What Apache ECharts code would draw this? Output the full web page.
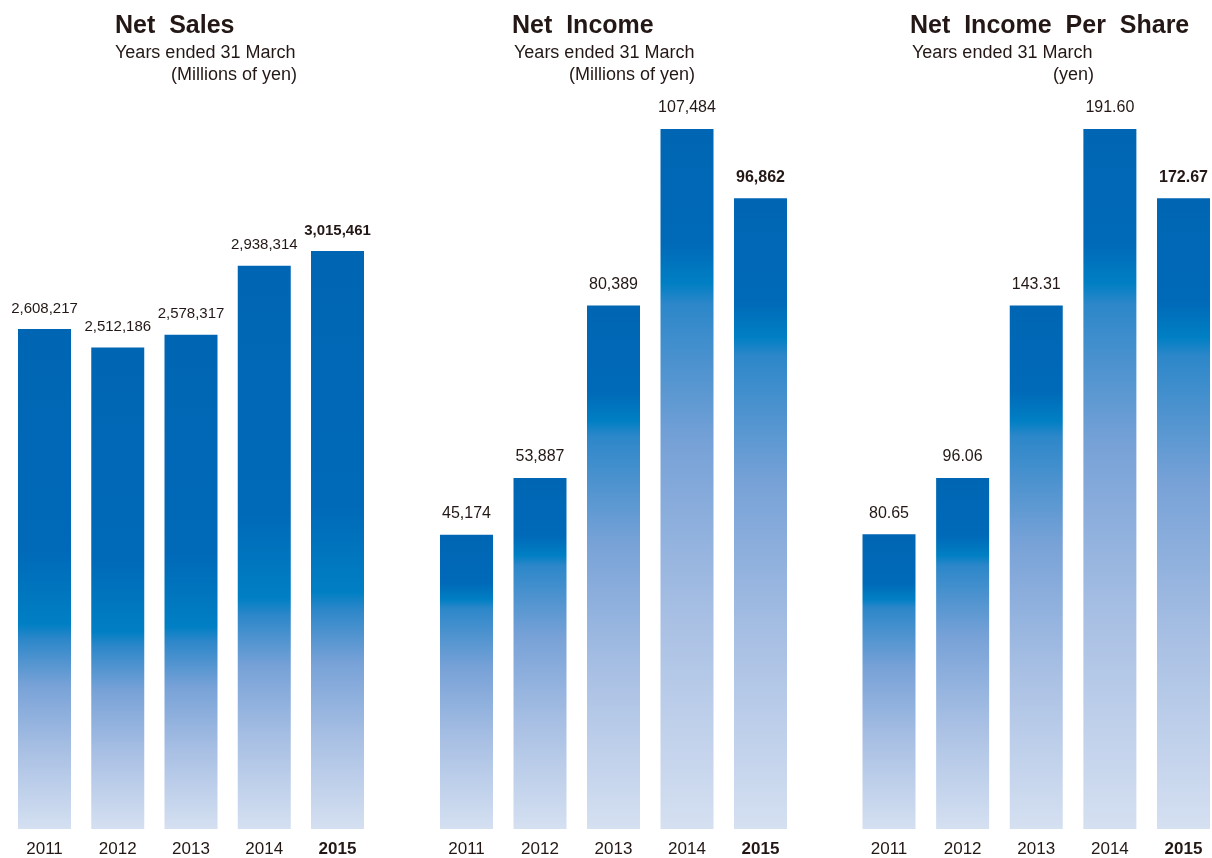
<!DOCTYPE html>
<html>
<head>
<meta charset="utf-8">
<script src="https://cdn.jsdelivr.net/npm/echarts@6/dist/echarts.min.js"></script>
<style>
html,body{margin:0;padding:0;background:#fff;}
#c{width:1212px;height:858px;}
</style>
</head>
<body>
<div id="c"></div>
<script>
const years = ['2011', '2012', '2013', '2014', '2015'];
const netSales = [2608217, 2512186, 2578317, 2938314, 3015461];
const netIncome = [45174, 53887, 80389, 107484, 96862];
const netIncomePerShare = [80.65, 96.06, 143.31, 191.60, 172.67];

const titles = ['Net  Sales', 'Net  Income', 'Net  Income  Per  Share'];
const subtitles = ['Years ended 31 March', 'Years ended 31 March', 'Years ended 31 March'];
const units = ['(Millions of yen)', '(Millions of yen)', '(yen)'];

const FONT = '"Liberation Sans", Arial, Helvetica, sans-serif';
const INK = '#231815';

function grad(s) {
  const r = 1 - s;
  return new echarts.graphic.LinearGradient(0, 0, 0, 1, [
    { offset: 0, color: '#0066b4' },
    { offset: s * 0.75, color: '#006ab8' },
    { offset: s, color: '#007fc4' },
    { offset: s + 0.03, color: '#2c87c9' },
    { offset: s + r * 0.3, color: '#78a2d7' },
    { offset: s + r * 0.62, color: '#a9c0e4' },
    { offset: 1, color: '#d5e0f1' }
  ]);
}

const grids = [
  { left: 44.5, width: 293, top: 251, bottom: 26 },
  { left: 466.5, width: 294, top: 129, bottom: 26 },
  { left: 889, width: 294.5, top: 129, bottom: 26 }
];
const seriesData = [netSales, netIncome, netIncomePerShare];
const fmts = [
  v => v.toLocaleString('en-US'),
  v => v.toLocaleString('en-US'),
  v => v.toFixed(2)
];
const splits = [0.59, 0.22, 0.22];
const labelSizes = [15, 16, 16];

const option = {
  animation: false,
  backgroundColor: '#fff',
  grid: grids,
  xAxis: grids.map((g, i) => ({
    type: 'category',
    gridIndex: i,
    data: years,
    boundaryGap: false,
    axisLine: { show: false },
    axisTick: { show: false },
    axisLabel: {
      interval: 0,
      margin: 12,
      color: INK,
      fontFamily: FONT,
      fontSize: 17,
      formatter: (v, idx) => idx === 4 ? '{b|' + v + '}' : v,
      rich: { b: { fontWeight: 'bold', fontSize: 17, color: INK, fontFamily: FONT } }
    }
  })),
  yAxis: grids.map((g, i) => ({
    type: 'value',
    gridIndex: i,
    show: false,
    min: 0,
    max: Math.max(...seriesData[i]),
    splitLine: { show: false }
  })),
  series: seriesData.map((arr, i) => ({
    type: 'bar',
    xAxisIndex: i,
    yAxisIndex: i,
    barWidth: 53,
    clip: false,
    itemStyle: { color: grad(splits[i]) },
    label: {
      show: true,
      position: 'top',
      distance: 13,
      color: INK,
      fontFamily: FONT,
      fontSize: labelSizes[i],
      formatter: p => fmts[i](p.value)
    },
    data: arr.map((v, j) => j === 4 ? { value: v, label: { fontWeight: 'bold' } } : v)
  })),
  graphic: [
    { type: 'text', left: 115, top: 14, style: { text: titles[0], font: 'bold 25px ' + FONT, fill: INK } },
    { type: 'text', left: 115, top: 44, style: { text: subtitles[0], font: '18px ' + FONT, fill: INK } },
    { type: 'text', right: 1212 - 297, top: 66, style: { text: units[0], font: '18px ' + FONT, fill: INK } },

    { type: 'text', left: 512, top: 14, style: { text: titles[1], font: 'bold 25px ' + FONT, fill: INK } },
    { type: 'text', left: 514, top: 44, style: { text: subtitles[1], font: '18px ' + FONT, fill: INK } },
    { type: 'text', right: 1212 - 695, top: 66, style: { text: units[1], font: '18px ' + FONT, fill: INK } },

    { type: 'text', left: 910, top: 14, style: { text: titles[2], font: 'bold 25px ' + FONT, fill: INK } },
    { type: 'text', left: 912, top: 44, style: { text: subtitles[2], font: '18px ' + FONT, fill: INK } },
    { type: 'text', right: 1212 - 1094, top: 66, style: { text: units[2], font: '18px ' + FONT, fill: INK } }
  ]
};

const chart = echarts.init(document.getElementById('c'), null, { renderer: 'canvas' });
chart.setOption(option);
</script>
</body>
</html>
